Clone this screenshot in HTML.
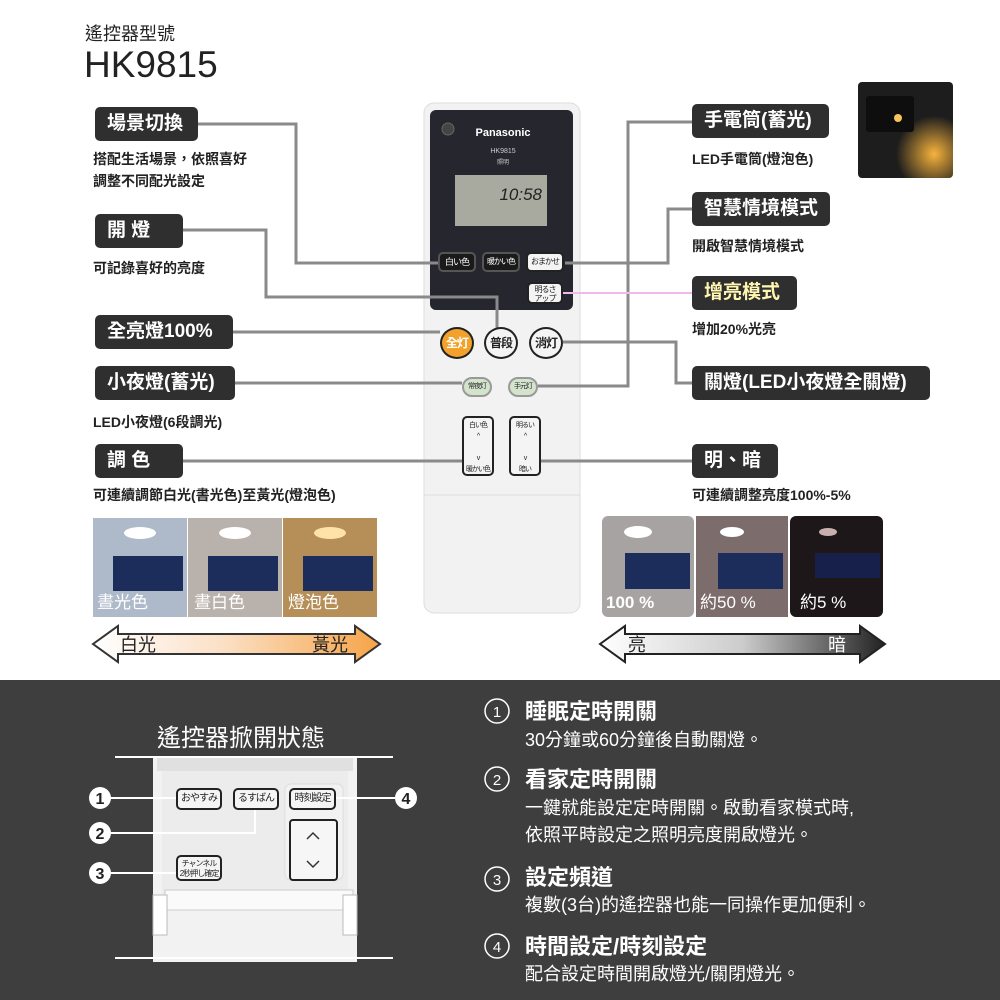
<!DOCTYPE html>
<html><head><meta charset="utf-8"><style>
body{margin:0;width:1000px;height:1000px;position:relative;background:#fff;font-family:"Liberation Sans","Noto Sans CJK TC",sans-serif;overflow:hidden}
.a{position:absolute}
.lb{position:absolute;background:#2f2f2f;color:#fff;font-weight:bold;font-size:19px;border-radius:5px;height:34px;line-height:34px;padding:0 12px;box-sizing:border-box;white-space:nowrap}
.d{position:absolute;font-size:14px;font-weight:bold;color:#222;line-height:22px;white-space:nowrap}
.btn{position:absolute;border:2px solid #222;border-radius:5px;background:#f4f4f4;font-size:9px;text-align:center;box-sizing:border-box;color:#222;white-space:nowrap;overflow:hidden;letter-spacing:-1px}
.w{position:absolute;color:#fff;white-space:nowrap}
</style></head><body>
<div class="a" style="left:85px;top:20px;font-size:18px;color:#222">遙控器型號</div>
<div class="a" style="left:84px;top:44px;font-size:37px;color:#222">HK9815</div>

<svg class="a" style="left:0;top:0" width="1000" height="680">
<defs>
<linearGradient id="g1" x1="0" x2="1"><stop offset="0" stop-color="#fff"/><stop offset="0.45" stop-color="#fbe0c6"/><stop offset="1" stop-color="#f6a447"/></linearGradient>
<linearGradient id="g2" x1="0" x2="1"><stop offset="0" stop-color="#fff"/><stop offset="0.5" stop-color="#ccc"/><stop offset="1" stop-color="#222"/></linearGradient>
<radialGradient id="gl" cx="0.8" cy="0.75" r="0.4"><stop offset="0" stop-color="#f7b33c"/><stop offset="1" stop-color="#1d1d1d"/></radialGradient>
</defs>
<rect x="424" y="103" width="156" height="510" rx="10" fill="#f2f2f2" stroke="#ddd"/>
<rect x="430" y="110" width="143" height="200" rx="6" fill="#26262f"/>
<circle cx="448" cy="129" r="6" fill="#444" stroke="#666"/>
<text x="503" y="136" fill="#fff" font-size="11" font-weight="bold" text-anchor="middle">Panasonic</text>
<text x="503" y="153" fill="#ccc" font-size="7" text-anchor="middle">HK9815</text>
<text x="503" y="164" fill="#ccc" font-size="6" text-anchor="middle">照明</text>
<rect x="455" y="175" width="92" height="51" fill="#a9aa9f"/>
<text x="542" y="200" fill="#222" font-size="17" font-style="italic" text-anchor="end">10:58</text>
<line x1="424" y1="495" x2="580" y2="495" stroke="#ddd"/>
<rect x="858" y="82" width="95" height="96" rx="4" fill="url(#gl)"/>
<rect x="866" y="96" width="48" height="36" rx="3" fill="#0e0e0e"/>
<circle cx="898" cy="118" r="4" fill="#f6c45a"/>
<g fill="none" stroke="#8a8a8a" stroke-width="3">
<polyline points="198,124 296,124 296,263 440,263"/>
<polyline points="183,230 266,230 266,297 497,297 497,330"/>
<line x1="233" y1="332" x2="440" y2="332"/>
<line x1="235" y1="383" x2="462" y2="383"/>
<line x1="183" y1="461" x2="468" y2="461"/>
<polyline points="692,122 628,122 628,386 538,386"/>
<polyline points="692,209 668,209 668,263 565,263"/>
<polyline points="692,383 676,383 676,342 563,342"/>
<line x1="692" y1="461" x2="540" y2="461"/>
</g>
<line x1="692" y1="293" x2="563" y2="293" stroke="#f2b8ea" stroke-width="2"/>
<rect x="93" y="518" width="94" height="99" fill="#aeb9c9"/>
<rect x="188" y="518" width="94" height="99" fill="#b9b1ac"/>
<rect x="283" y="518" width="94" height="99" fill="#b58f57"/>
<g fill="#1c2d5c"><rect x="113" y="556" width="70" height="35"/><rect x="208" y="556" width="70" height="35"/><rect x="303" y="556" width="70" height="35"/></g>
<g fill="#fff"><ellipse cx="140" cy="533" rx="16" ry="6"/><ellipse cx="235" cy="533" rx="16" ry="6"/><ellipse cx="330" cy="533" rx="16" ry="6" fill="#ffe2a8"/></g>
<rect x="602" y="516" width="92" height="101" rx="6" fill="#a8a3a3"/>
<rect x="696" y="516" width="92" height="101" fill="#7d6c6c"/>
<rect x="790" y="516" width="93" height="101" rx="6" fill="#1e171a"/>
<g fill="#1c2d5c"><rect x="625" y="553" width="65" height="36"/><rect x="718" y="553" width="65" height="36"/><rect x="815" y="553" width="65" height="25" fill="#16204a"/></g>
<g><ellipse cx="638" cy="532" rx="14" ry="6" fill="#fff"/><ellipse cx="732" cy="532" rx="12" ry="5" fill="#fff"/><ellipse cx="828" cy="532" rx="9" ry="4" fill="#c9b0b0"/></g>
<polygon points="93,644 118,626 118,634 355,634 355,626 380,644 355,662 355,654 118,654 118,662" fill="url(#g1)" stroke="#333" stroke-width="2"/>
<polygon points="600,644 625,626 625,634 860,634 860,626 885,644 860,662 860,654 625,654 625,662" fill="url(#g2)" stroke="#222" stroke-width="2"/>
<text x="120" y="651" font-size="18" fill="#222">白光</text>
<text x="312" y="651" font-size="18" fill="#222">黃光</text>
<text x="628" y="651" font-size="18" fill="#222">亮</text>
<text x="828" y="651" font-size="18" fill="#fff">暗</text>
<g font-size="17" fill="#fff">
<text x="97" y="608">晝光色</text><text x="194" y="608">晝白色</text><text x="288" y="608">燈泡色</text>
<text x="606" y="608" font-weight="bold">100 %</text><text x="700" y="608">約50 %</text><text x="800" y="608">約5 %</text>
</g>
</svg>

<div class="btn" style="left:438px;top:252px;width:38px;height:20px;line-height:16px;background:#1a1a1a;color:#fff;border-color:#555">白い色</div>
<div class="btn" style="left:482px;top:252px;width:38px;height:20px;line-height:16px;background:#1a1a1a;color:#fff;border-color:#555;font-size:8px">暖かい色</div>
<div class="btn" style="left:526px;top:252px;width:38px;height:20px;line-height:16px;font-size:8px">おまかせ</div>
<div class="btn" style="left:527px;top:282px;width:36px;height:22px;font-size:8px;line-height:9px;padding-top:1px">明るさ<br>アップ</div>
<div class="btn" style="left:440px;top:327px;width:34px;height:32px;border-radius:50%;background:#f2a12b;color:#fff;font-size:12px;line-height:28px;font-weight:bold">全灯</div>
<div class="btn" style="left:484px;top:327px;width:34px;height:32px;border-radius:50%;font-size:12px;line-height:28px;font-weight:bold">普段</div>
<div class="btn" style="left:529px;top:327px;width:34px;height:32px;border-radius:50%;font-size:12px;line-height:28px;font-weight:bold">消灯</div>
<div class="btn" style="left:462px;top:377px;width:30px;height:20px;border-radius:10px;background:#d4e3cc;border-color:#999;font-size:7px;line-height:16px">常夜灯</div>
<div class="btn" style="left:508px;top:377px;width:30px;height:20px;border-radius:10px;background:#d4e3cc;border-color:#999;font-size:7px;line-height:16px">手元灯</div>
<div class="btn" style="left:462px;top:416px;width:32px;height:60px;font-size:7px;line-height:11px;padding-top:2px">白い色<br>^<br><br>v<br>暖かい色</div>
<div class="btn" style="left:509px;top:416px;width:32px;height:60px;font-size:7px;line-height:11px;padding-top:2px">明るい<br>^<br><br>v<br>暗い</div>

<div class="lb" style="left:95px;top:107px;width:103px">場景切換</div>
<div class="d" style="left:93px;top:148px">搭配生活場景，依照喜好<br>調整不同配光設定</div>
<div class="lb" style="left:95px;top:214px;width:88px">開 燈</div>
<div class="d" style="left:93px;top:257px">可記錄喜好的亮度</div>
<div class="lb" style="left:95px;top:315px;width:138px">全亮燈100%</div>
<div class="lb" style="left:95px;top:366px;width:140px">小夜燈(蓄光)</div>
<div class="d" style="left:93px;top:411px">LED小夜燈(6段調光)</div>
<div class="lb" style="left:95px;top:444px;width:88px">調 色</div>
<div class="d" style="left:93px;top:484px">可連續調節白光(書光色)至黃光(燈泡色)</div>
<div class="lb" style="left:692px;top:104px;width:137px">手電筒(蓄光)</div>
<div class="d" style="left:692px;top:148px">LED手電筒(燈泡色)</div>
<div class="lb" style="left:692px;top:192px;width:138px">智慧情境模式</div>
<div class="d" style="left:692px;top:235px">開啟智慧情境模式</div>
<div class="lb" style="left:692px;top:276px;width:105px;color:#fff6b0">增亮模式</div>
<div class="d" style="left:692px;top:318px">增加20%光亮</div>
<div class="lb" style="left:692px;top:366px;width:238px">關燈(LED小夜燈全關燈)</div>
<div class="lb" style="left:692px;top:444px;width:86px">明、暗</div>
<div class="d" style="left:692px;top:484px">可連續調整亮度100%-5%</div>

<div class="a" style="left:0;top:680px;width:1000px;height:320px;background:#3e3e3e"></div>
<div class="w" style="left:157px;top:718px;font-size:24px">遙控器掀開狀態</div>
<svg class="a" style="left:0;top:680px" width="1000" height="320">
<rect x="153" y="77" width="204" height="205" fill="#f2f2f2"/>
<rect x="157" y="77" width="196" height="14" fill="#e0e0e0"/>
<rect x="162" y="91" width="186" height="125" fill="#ececec"/>
<rect x="285" y="104" width="58" height="96" rx="6" fill="#f2f2f2" stroke="#ddd"/>
<rect x="290" y="140" width="47" height="60" rx="3" fill="#f6f6f6" stroke="#222" stroke-width="2"/>
<polyline points="307,159 313,153 319,159" fill="none" stroke="#333" stroke-width="1.5"/>
<polyline points="307,181 313,187 319,181" fill="none" stroke="#333" stroke-width="1.5"/>
<rect x="165" y="210" width="188" height="20" fill="#fafafa" stroke="#ccc"/>
<rect x="153" y="215" width="14" height="40" fill="#fff" stroke="#bbb"/>
<rect x="343" y="215" width="14" height="40" fill="#fff" stroke="#bbb"/>
<g stroke="#fff" stroke-width="2" fill="none">
<line x1="115" y1="77" x2="393" y2="77"/><line x1="115" y1="278" x2="393" y2="278"/>
<line x1="110" y1="118" x2="176" y2="118"/>
<polyline points="110,153 255,153 255,128"/>
<line x1="110" y1="193" x2="176" y2="193"/>
<line x1="336" y1="118" x2="395" y2="118"/>
</g>
<g fill="#fff"><circle cx="100" cy="118" r="11"/><circle cx="100" cy="153" r="11"/><circle cx="100" cy="193" r="11"/><circle cx="406" cy="118" r="11"/></g>
<g fill="#222" font-size="16" font-weight="bold" text-anchor="middle"><text x="100" y="124">1</text><text x="100" y="159">2</text><text x="100" y="199">3</text><text x="406" y="124">4</text></g>
<g fill="none" stroke="#fff" stroke-width="1.5"><circle cx="497" cy="31" r="12"/><circle cx="497" cy="99" r="12"/><circle cx="497" cy="199" r="12"/><circle cx="497" cy="266" r="12"/></g>
<g fill="#fff" font-size="15" text-anchor="middle"><text x="497" y="37">1</text><text x="497" y="105">2</text><text x="497" y="205">3</text><text x="497" y="272">4</text></g>
</svg>
<div class="btn" style="left:176px;top:788px;width:46px;height:22px;font-size:10px;line-height:18px">おやすみ</div>
<div class="btn" style="left:233px;top:788px;width:46px;height:22px;font-size:10px;line-height:18px">るすばん</div>
<div class="btn" style="left:289px;top:788px;width:47px;height:22px;font-size:10px;line-height:18px">時刻設定</div>
<div class="btn" style="left:176px;top:855px;width:46px;height:26px;font-size:8px;line-height:10px;padding-top:2px">チャンネル<br>2秒押し確定</div>

<div class="w" style="left:525px;top:694px;font-size:22px;font-weight:bold">睡眠定時開關</div>
<div class="w" style="left:525px;top:726px;font-size:18px">30分鐘或60分鐘後自動關燈。</div>
<div class="w" style="left:525px;top:762px;font-size:22px;font-weight:bold">看家定時開關</div>
<div class="w" style="left:525px;top:795px;font-size:18px;line-height:27px">一鍵就能設定定時開關。啟動看家模式時,<br>依照平時設定之照明亮度開啟燈光。</div>
<div class="w" style="left:525px;top:860px;font-size:22px;font-weight:bold">設定頻道</div>
<div class="w" style="left:525px;top:891px;font-size:18px">複數(3台)的遙控器也能一同操作更加便利。</div>
<div class="w" style="left:525px;top:929px;font-size:22px;font-weight:bold">時間設定/時刻設定</div>
<div class="w" style="left:525px;top:960px;font-size:18px">配合設定時間開啟燈光/關閉燈光。</div>
</body></html>
